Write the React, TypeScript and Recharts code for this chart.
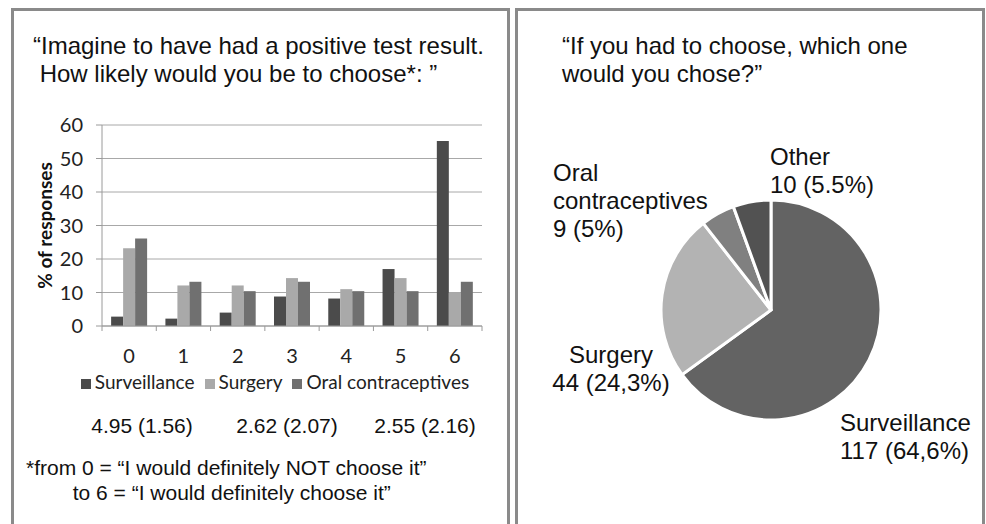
import { BarChart, Bar, XAxis, YAxis, CartesianGrid, Legend, PieChart, Pie, Cell } from 'recharts'

// left panel: likelihood of choosing each option, score 0..6 (% of responses)
const scores = ['0', '1', '2', '3', '4', '5', '6']
const surveillance = [2.8, 2.2, 4.0, 8.8, 8.2, 17.0, 55.2]
const surgery = [23.2, 12.1, 12.1, 14.3, 11.0, 14.3, 10.0]
const oralContraceptives = [26.1, 13.2, 10.4, 13.2, 10.4, 10.4, 13.2]
const yTicks = [0, 10, 20, 30, 40, 50, 60]
const meanSd = ['4.95 (1.56)', '2.62 (2.07)', '2.55 (2.16)']

// right panel: forced choice
const choices = ['Surveillance', 'Surgery', 'Oral contraceptives', 'Other']
const choiceCounts = [117, 44, 9, 10]
const choiceShares = ['64,6%', '24,3%', '5%', '5.5%']

const barData = scores.map((s, i) => ({
  score: s,
  surveillance: surveillance[i],
  surgery: surgery[i],
  oral: oralContraceptives[i],
}))

const pieData = choices.map((c, i) => ({ name: c, value: choiceCounts[i], share: choiceShares[i] }))

const ARIAL = '"Liberation Sans", Arial, Helvetica, sans-serif'
const CALIBRI = 'Lato, "Open Sans", sans-serif'
const pieColors = ['#636363', '#b3b3b3', '#808080', '#525252']
const seriesOrder = ['surveillance', 'surgery', 'oral']

// where Excel put each slice label, relative to the pie centre
const labelPlacement: Record<string, { dx: number; dy: number; anchor: 'start' | 'middle'; lines: string[] }> = {
  Surveillance: { dx: 69, dy: 113, anchor: 'start', lines: ['Surveillance'] },
  Surgery: { dx: -160, dy: 45, anchor: 'middle', lines: ['Surgery'] },
  'Oral contraceptives': { dx: -218, dy: -137, anchor: 'start', lines: ['Oral', 'contraceptives'] },
  Other: { dx: -1, dy: -153, anchor: 'start', lines: ['Other'] },
}

function ScoreTick(props: any) {
  const { x, y, payload, index, visibleTicksCount } = props
  const half = payload?.offset ?? 27
  return (
    <g>
      <line x1={x - half} x2={x - half} y1={y - 6} y2={y - 1} stroke="#9a9a9a" />
      {index === visibleTicksCount - 1 && (
        <line x1={x + half} x2={x + half} y1={y - 6} y2={y - 1} stroke="#9a9a9a" />
      )}
      <text x={x} y={y + 23} textAnchor="middle" dominantBaseline="central"
        fontFamily={CALIBRI} fontSize={20} fill="#222">
        {payload.value}
      </text>
    </g>
  )
}

function SliceLabel(props: any) {
  const { cx, cy, name, value, payload } = props
  const p = labelPlacement[name]
  if (!p) return null
  const lines = [...p.lines, `${value} (${payload.share})`]
  return (
    <text x={cx + p.dx} y={cy + p.dy} textAnchor={p.anchor} fontFamily={ARIAL} fontSize={24} fill="#111">
      {lines.map((l, i) => (
        <tspan key={i} x={cx + p.dx} dy={i === 0 ? '0.35em' : 28}>{l}</tspan>
      ))}
    </text>
  )
}

const panel = {
  position: 'absolute' as const,
  top: 8,
  height: 540,
  boxSizing: 'border-box' as const,
  border: '3px solid #8a8a8a',
}

export default function App() {
  return (
    <div style={{ position: 'absolute', left: 0, top: 0, width: 986, height: 524, background: '#fff', overflow: 'hidden', fontFamily: ARIAL, color: '#111' }}>
      <div style={{ ...panel, left: 11, width: 499 }} />
      <div style={{ ...panel, left: 515, width: 470 }} />

      {/* left title */}
      <div style={{ position: 'absolute', left: 33, top: 32, fontSize: 24, lineHeight: '28px', whiteSpace: 'pre' }}>
        {'“Imagine to have had a positive test result.\n How likely would you be to choose*: ”'}
      </div>

      <div style={{ position: 'absolute', left: 0, top: 0 }}>
        <BarChart width={500} height={400} data={barData}
          margin={{ top: 125, right: 18, bottom: 44, left: 36 }}
          barCategoryGap="16.8%" barGap={0}>
          <CartesianGrid vertical={false} stroke="#a8a8a8" />
          <XAxis dataKey="score" stroke="#9a9a9a" tickLine={false} tickSize={6} tickMargin={0}
            height={30} tick={<ScoreTick />} interval={0} />
          <YAxis domain={[0, 60]} ticks={yTicks} width={66} stroke="#9a9a9a" tickSize={6} tickMargin={13}
            tick={{ fill: '#222', fontSize: 20, fontFamily: CALIBRI }}
            label={{ value: '% of responses', angle: -90, position: 'insideLeft', offset: 9,
              style: { textAnchor: 'middle', fontFamily: CALIBRI, fontWeight: 700, fontSize: 19, fill: '#111' } }} />
          <Legend verticalAlign="middle" iconType="square" iconSize={10}
            itemSorter={(item: any) => seriesOrder.indexOf(item.dataKey)}
            wrapperStyle={{ top: 370, left: 80, width: 400, fontFamily: CALIBRI, fontSize: 19 }}
            formatter={(v: string) => <span style={{ color: '#222' }}>{v}</span>} />
          <Bar dataKey="surveillance" name="Surveillance" fill="#4b4b4b" isAnimationActive={false} />
          <Bar dataKey="surgery" name="Surgery" fill="#a9a9a9" isAnimationActive={false} />
          <Bar dataKey="oral" name="Oral contraceptives" fill="#707070" isAnimationActive={false} />
        </BarChart>
      </div>

      {meanSd.map((t, i) => (
        <div key={t} style={{ position: 'absolute', left: [142, 287, 425][i] - 80, width: 160, top: 413, textAlign: 'center', fontSize: 21, lineHeight: '26px' }}>
          {t}
        </div>
      ))}

      <div style={{ position: 'absolute', left: 26, top: 455, fontSize: 21, lineHeight: '25px', whiteSpace: 'pre' }}>
        {'*from 0 = “I would definitely NOT choose it”\n        to 6 = “I would definitely choose it”'}
      </div>

      {/* right title */}
      <div style={{ position: 'absolute', left: 562, top: 32, fontSize: 24, lineHeight: '28px', whiteSpace: 'pre' }}>
        {'“If you had to choose, which one\nwould you chose?”'}
      </div>

      <div style={{ position: 'absolute', left: 515, top: 100 }}>
        <PieChart width={468} height={400}>
          <Pie data={pieData} dataKey="value" nameKey="name" cx={251} cy={205} outerRadius={110}
            startAngle={90} endAngle={-270} stroke="#fff" strokeWidth={3}
            label={<SliceLabel />} labelLine={false} isAnimationActive={false}>
            {pieData.map((d, i) => <Cell key={d.name} fill={pieColors[i]} />)}
          </Pie>
        </PieChart>
      </div>
    </div>
  )
}
